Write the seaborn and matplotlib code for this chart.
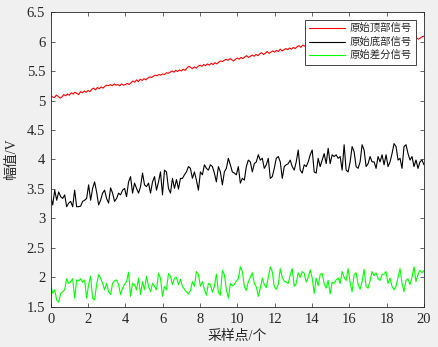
import numpy as np
import pandas as pd
import matplotlib
matplotlib.use("Agg")
import matplotlib.pyplot as plt
import seaborn as sns
from matplotlib.ticker import FuncFormatter

# ---- data ----
series_names = ["原始顶部信号", "原始底部信号", "原始差分信号"]
series_colors = ["#ff0000", "#000000", "#00ff00"]

top_signal = [
    5.08, 5.06, 5.05, 5.09, 5.07, 5.04, 5.06, 5.10, 5.08, 5.11,
    5.09, 5.13, 5.11, 5.14, 5.12, 5.10, 5.15, 5.13, 5.16, 5.14,
    5.17, 5.15, 5.19, 5.21, 5.18, 5.22, 5.20, 5.23, 5.21, 5.24,
    5.26, 5.25, 5.27, 5.25, 5.28, 5.26, 5.27, 5.25, 5.28, 5.26,
    5.27, 5.29, 5.27, 5.30, 5.33, 5.31, 5.35, 5.32, 5.36, 5.34,
    5.37, 5.35, 5.38, 5.40, 5.39, 5.41, 5.43, 5.42, 5.44, 5.43,
    5.45, 5.44, 5.47, 5.46, 5.48, 5.50, 5.48, 5.51, 5.49, 5.52,
    5.50, 5.53, 5.51, 5.55, 5.58, 5.56, 5.54, 5.57, 5.55, 5.58,
    5.60, 5.58, 5.61, 5.59, 5.62, 5.60, 5.63, 5.61, 5.64, 5.62,
    5.65, 5.67, 5.66, 5.68, 5.70, 5.68, 5.71, 5.69, 5.67, 5.70,
    5.72, 5.70, 5.73, 5.71, 5.74, 5.76, 5.73, 5.75, 5.77, 5.75,
    5.78, 5.76, 5.79, 5.81, 5.78, 5.80, 5.83, 5.80, 5.82, 5.84,
    5.82, 5.85, 5.83, 5.87, 5.84, 5.86, 5.88, 5.86, 5.89, 5.87,
    5.90, 5.88, 5.91, 5.93, 5.90, 5.94, 5.92, 5.95, 5.93, 5.96,
    5.94, 5.96, 5.95, 5.97, 5.95, 5.98, 5.96, 5.97, 5.99, 5.97,
    5.98, 5.96, 5.99, 6.00, 5.98, 6.01, 5.99, 6.00, 5.98, 6.01,
    6.00, 6.02, 5.99, 6.01, 6.03, 6.00, 6.02, 6.01, 6.03, 6.02,
    6.01, 6.03, 6.02, 6.04, 6.02, 6.03, 6.05, 6.03, 6.04, 6.02,
    6.04, 6.03, 6.05, 6.04, 6.06, 6.04, 6.05, 6.03, 6.06, 6.05,
    6.04, 6.06, 6.05, 6.03, 6.05, 6.07, 6.06, 6.04, 6.06, 6.08,
    6.09,
]

bottom_signal = [
    3.37, 3.23, 3.48, 3.31, 3.45, 3.37, 3.34, 3.40, 3.20, 3.26,
    3.29, 3.20, 3.48, 3.20, 3.20, 3.21, 3.29, 3.31, 3.34, 3.57,
    3.31, 3.51, 3.62, 3.45, 3.23, 3.31, 3.43, 3.48, 3.34, 3.26,
    3.52, 3.43, 3.29, 3.34, 3.43, 3.40, 3.48, 3.51, 3.37, 3.62,
    3.71, 3.43, 3.60, 3.51, 3.43, 3.54, 3.77, 3.57, 3.54, 3.60,
    3.43, 3.62, 3.71, 3.48, 3.62, 3.79, 3.40, 3.82, 3.79, 3.51,
    3.43, 3.68, 3.51,
    3.66, 3.50, 3.68, 3.68, 3.74, 3.79, 3.88, 3.85, 3.68, 3.79,
    3.65, 3.48, 3.79, 3.74, 3.91, 3.85, 3.82, 3.91, 3.88, 3.77,
    3.62, 3.88, 3.79, 3.57, 3.79, 3.85, 4.02, 3.91, 3.79, 3.77,
    3.74, 3.88, 3.60, 3.68, 3.65, 3.88, 3.99, 3.96, 3.79, 3.93,
    3.96, 4.08, 3.99, 4.02, 3.85, 3.91, 4.02, 3.68, 3.71, 3.85,
    4.02, 4.05, 3.96, 3.68, 3.88, 3.91, 3.93, 3.99, 3.88, 3.82,
    3.96, 4.16, 3.82,
    3.77, 3.91, 3.88, 3.96, 4.08, 4.16, 3.79, 3.77, 4.02, 3.88,
    3.99, 4.10, 3.93, 4.19, 3.93, 4.08, 4.05, 4.08, 4.02, 4.05,
    3.82, 4.25, 3.82, 3.79, 3.96, 4.22, 4.13, 3.88, 3.85, 3.96,
    4.25, 4.16, 3.88, 3.93, 4.05, 3.96, 3.96, 3.85, 4.05, 3.96,
    4.08, 3.91, 4.08, 3.88, 3.96, 4.10, 4.27, 4.22, 3.99, 4.02,
    3.85, 4.22, 4.25, 4.10, 3.99, 4.05, 3.88, 3.99, 3.85, 3.96,
    3.99, 3.91,
]

diff_signal = [
    1.88, 1.73, 1.79, 1.62, 1.58, 1.73, 1.76, 1.79, 1.98, 1.90,
    1.93, 1.98, 1.65, 1.96, 1.94, 1.98, 1.92, 1.96, 1.65, 1.88,
    2.02, 1.65, 1.62, 1.88, 2.05, 1.99, 1.90, 1.79, 1.90, 1.76,
    1.71, 1.90, 1.94, 1.96, 1.88, 1.71, 1.82, 1.88, 1.93, 2.09,
    1.68, 1.90, 1.88, 1.79, 1.99, 1.71, 1.93, 1.79, 2.02, 1.85,
    1.76, 1.90, 1.85, 1.79, 2.07, 1.99, 1.68, 1.85, 1.79, 2.07,
    2.02, 1.88, 1.99,
    2.00, 1.88, 1.97, 1.85, 1.80, 1.76, 1.72, 1.78, 1.93, 1.85,
    2.10, 2.05, 1.85, 1.93, 1.80, 1.70, 1.90, 1.88, 1.75, 1.85,
    2.06, 1.75, 1.70, 2.12, 2.05, 1.80, 1.65, 1.90, 1.86, 1.88,
    1.94, 1.98, 2.18, 2.10, 1.85, 1.78, 1.93, 2.00, 2.08, 1.90,
    1.84, 1.68, 1.82, 1.99, 1.88, 1.83, 2.00, 2.18, 2.10, 1.85,
    1.80, 1.88, 2.15, 2.00, 1.94, 1.92, 1.90, 2.05, 2.15, 1.85,
    1.90, 2.08, 2.00,
    2.10, 2.07, 1.92, 2.00, 2.13, 1.99, 1.73, 1.99, 1.86, 2.05,
    2.07, 1.90, 1.82, 1.95, 1.72, 1.92, 1.90, 1.96, 1.99, 1.90,
    2.10, 2.00, 1.95, 2.15, 1.92, 1.76, 2.05, 2.08, 1.88, 1.80,
    1.93, 2.14, 1.85, 1.82, 1.95, 2.10, 2.03, 2.08, 1.98, 1.95,
    2.05, 2.06, 2.10, 1.90, 1.99, 1.85, 1.79, 1.85, 2.00, 2.15,
    1.90, 1.76, 1.95, 1.98, 1.88, 2.00, 2.18, 1.93, 2.05, 2.12,
    2.08, 2.12,
]

x_ticks = [0, 2, 4, 6, 8, 10, 12, 14, 16, 18, 20]
y_ticks = [1.5, 2, 2.5, 3, 3.5, 4, 4.5, 5, 5.5, 6, 6.5]
x_label = "采样点/个"
y_label = "幅值/V"

# ---- build long-form table ----
frames = []
for name, vals in zip(series_names, [top_signal, bottom_signal, diff_signal]):
    frames.append(pd.DataFrame({
        "x": np.linspace(0, 20, len(vals)),
        "y": vals,
        "series": name,
    }))
df = pd.concat(frames, ignore_index=True)

sns.set_style("ticks")
plt.rcParams["font.family"] = ["Liberation Serif", "Noto Sans CJK SC"]
plt.rcParams["axes.unicode_minus"] = False

fig = plt.figure(figsize=(4.39, 3.47), dpi=100, facecolor="#f0f0f0")
ax = fig.add_axes([0.1155, 0.1153, 0.8503, 0.8501])
ax.set_facecolor("white")

sns.lineplot(data=df, x="x", y="y", hue="series",
             palette=dict(zip(series_names, series_colors)),
             hue_order=series_names, estimator=None, sort=False,
             linewidth=0.8, ax=ax)

ax.set_xlim(0, 20)
ax.set_ylim(1.5, 6.5)
ax.set_xticks(x_ticks)
ax.set_yticks(y_ticks)
fmt = FuncFormatter(lambda v, p: "%g" % v)
ax.xaxis.set_major_formatter(fmt)
ax.yaxis.set_major_formatter(fmt)

ax.tick_params(direction="in", length=3, width=0.5, top=True, right=True,
               labelsize=10.5, pad=4, colors="#262626")
for s in ax.spines.values():
    s.set_visible(True)
    s.set_linewidth(0.6)
    s.set_color("#262626")

ax.set_xlabel(x_label, fontsize=10, color="#262626", labelpad=3)
ax.set_ylabel(y_label, fontsize=10, color="#262626", labelpad=6)

leg = ax.legend(loc="upper right", fontsize=7.5, frameon=True, fancybox=False,
                edgecolor="#262626", framealpha=1, handlelength=3.4,
                handletextpad=0.5, labelspacing=0.3, borderaxespad=0.75,
                borderpad=0.4)
leg.get_frame().set_linewidth(0.6)
for t in leg.get_texts():
    t.set_color("#262626")

fig.savefig("out.png", dpi=100, facecolor=fig.get_facecolor())
